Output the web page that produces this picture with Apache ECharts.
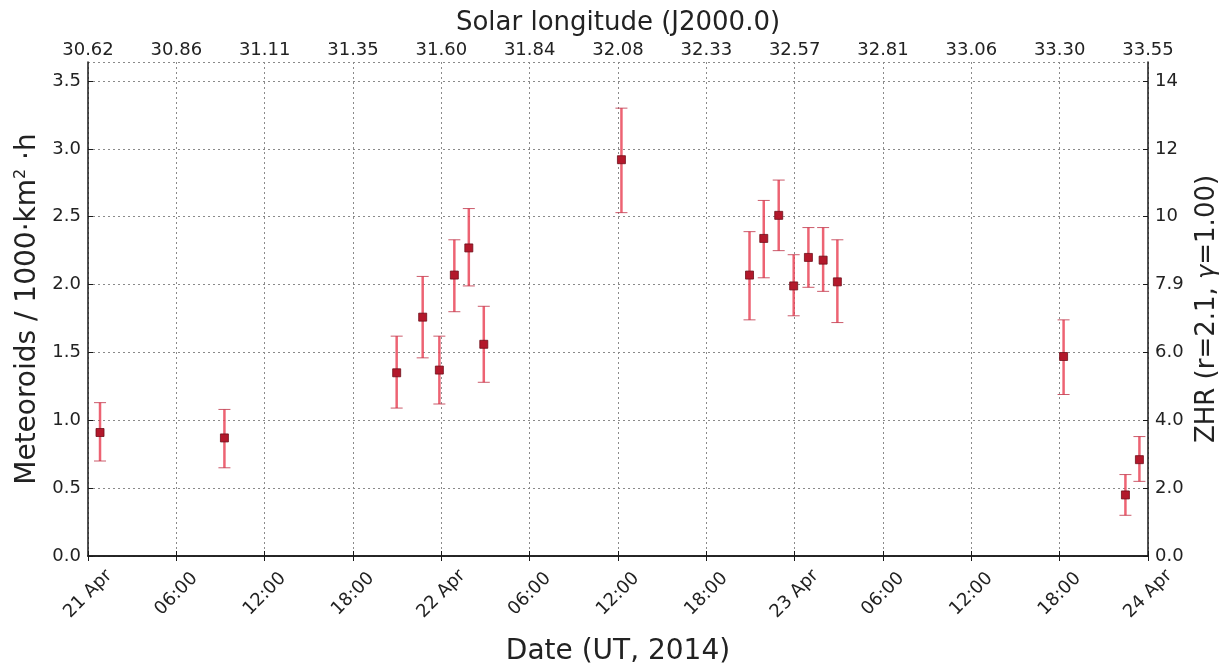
<!DOCTYPE html>
<html>
<head>
<meta charset="utf-8">
<script src="https://cdn.jsdelivr.net/npm/echarts@6/dist/echarts.min.js"></script>
<style>html,body{margin:0;padding:0;background:#fff}#c{width:1227px;height:668px}</style>
</head>
<body>
<div id="c"></div>
<script>
// Observation times (UT, 2014)
var times = ['2014-04-21T00:49Z','2014-04-21T09:16Z','2014-04-21T20:58Z','2014-04-21T22:44Z','2014-04-21T23:52Z',
  '2014-04-22T00:53Z','2014-04-22T01:52Z','2014-04-22T02:53Z','2014-04-22T12:14Z','2014-04-22T20:56Z',
  '2014-04-22T21:54Z','2014-04-22T22:55Z','2014-04-22T23:56Z','2014-04-23T00:56Z','2014-04-23T01:56Z',
  '2014-04-23T02:54Z','2014-04-23T18:16Z','2014-04-23T22:28Z','2014-04-23T23:25Z'];
// Meteoroids / 1000 km^2 h
var values = [0.91,0.87,1.35,1.76,1.37,2.07,2.27,1.56,2.92,2.07,2.34,2.51,1.99,2.20,2.18,2.02,1.47,0.45,0.71];
var lower  = [0.70,0.65,1.09,1.46,1.12,1.80,1.99,1.28,2.53,1.74,2.05,2.25,1.77,1.98,1.95,1.72,1.19,0.30,0.55];
var upper  = [1.13,1.08,1.62,2.06,1.62,2.33,2.56,1.84,3.30,2.39,2.62,2.77,2.22,2.42,2.42,2.33,1.74,0.60,0.88];
// Tick labels
var solarLongitudeLabels = ['30.62','30.86','31.11','31.35','31.60','31.84','32.08','32.33','32.57','32.81','33.06','33.30','33.55'];
var zhrLabels = ['0.0','2.0','4.0','6.0','7.9','10','12','14'];
var yTickLabels = ['0.0','0.5','1.0','1.5','2.0','2.5','3.0','3.5'];

var months = ['Jan','Feb','Mar','Apr','May','Jun','Jul','Aug','Sep','Oct','Nov','Dec'];
var H6 = 6 * 3600 * 1000;
var xMin = Date.UTC(2014, 3, 21);
var xMax = Date.UTC(2014, 3, 24);
var yMax = 3.64;

var pts = times.map(function (t, i) { return [Date.parse(t), values[i], lower[i], upper[i]]; });

function dateLabel(v) {
  var d = new Date(v);
  var h = d.getUTCHours();
  if (h === 0) return d.getUTCDate() + ' ' + months[d.getUTCMonth()];
  return (h < 10 ? '0' : '') + h + ':00';
}
function idx(v, step) { var k = Math.round(v / step); return Math.abs(k * step - v) < 1e-6 ? k : -1; }

var chart = echarts.init(document.getElementById('c'));
var FONT = 'DejaVu Sans';
var axisLine = { show: true, lineStyle: { color: '#1a1a1a', width: 1.5 } };
var grid = { show: true, lineStyle: { color: '#8a8a8a', width: 1, type: [2, 3] } };
var tick = { show: true, inside: true, length: 5, lineStyle: { color: '#1a1a1a', width: 1 } };

chart.setOption({
  backgroundColor: '#fff',
  animation: false,
  grid: { left: 88, right: 79, top: 62, bottom: 112, containLabel: false, outerBoundsMode: 'none' },
  xAxis: [{
    type: 'value', position: 'bottom', min: xMin, max: xMax, interval: H6,
    axisLine: axisLine, axisTick: tick, splitLine: grid,
    axisLabel: { rotate: 45, align: 'center', verticalAlign: 'middle', fontFamily: FONT, fontSize: 18, color: '#222', margin: 38,
      formatter: function (v) { return dateLabel(v); } },
    name: 'Date (UT, 2014)', nameLocation: 'middle', nameGap: 82,
    nameTextStyle: { fontFamily: FONT, fontSize: 28, color: '#222' }
  }, {
    type: 'value', position: 'top', min: xMin, max: xMax, interval: H6,
    axisLine: axisLine, axisTick: tick, splitLine: { show: false },
    axisLabel: { fontFamily: FONT, fontSize: 18, color: '#222', margin: 3,
      formatter: function (v) { var k = idx(v - xMin, H6); return k >= 0 ? solarLongitudeLabels[k] : ''; } },
    name: 'Solar longitude (J2000.0)', nameLocation: 'middle', nameGap: 25,
    nameTextStyle: { fontFamily: FONT, fontSize: 26, color: '#222' }
  }],
  yAxis: [{
    type: 'value', position: 'left', min: 0, max: yMax, interval: 0.5,
    axisLine: axisLine, axisTick: tick, splitLine: grid,
    axisLabel: { fontFamily: FONT, fontSize: 18, color: '#222', margin: 7, showMaxLabel: false,
      formatter: function (v) { var k = idx(v, 0.5); return k >= 0 ? yTickLabels[k] : ''; } },
    name: 'Meteoroids / 1000·km{sup|2} ·h', nameLocation: 'middle', nameGap: 40, nameRotate: 90,
    nameTextStyle: { fontFamily: FONT, fontSize: 28, color: '#222',
      rich: { sup: { fontFamily: FONT, fontSize: 16, color: '#222', verticalAlign: 'top', padding: [0, 0, 14, 0] } } }
  }, {
    type: 'value', position: 'right', min: 0, max: yMax, interval: 0.5,
    axisLine: axisLine, axisTick: tick, splitLine: { show: false },
    axisLabel: { fontFamily: FONT, fontSize: 18, color: '#222', margin: 7, showMaxLabel: false,
      formatter: function (v) { var k = idx(v, 0.5); return k >= 0 ? zhrLabels[k] : ''; } },
    name: 'ZHR (r=2.1, {g|γ}=1.00)', nameLocation: 'middle', nameGap: 44, nameRotate: 90,
    nameTextStyle: { fontFamily: FONT, fontSize: 26, color: '#222',
      rich: { g: { fontFamily: FONT, fontSize: 24, fontStyle: 'italic', color: '#222' } } }
  }],
  series: [{
    type: 'custom',
    xAxisIndex: 0, yAxisIndex: 0,
    data: pts,
    encode: { x: 0, y: [1, 2, 3] },
    renderItem: function (params, api) {
      var x = api.value(0);
      var pLo = api.coord([x, api.value(2)]);
      var pHi = api.coord([x, api.value(3)]);
      var p = api.coord([x, api.value(1)]);
      var cw = 6;
      return {
        type: 'group',
        children: [
          { type: 'line', shape: { x1: pLo[0], y1: pLo[1], x2: pHi[0], y2: pHi[1] },
            style: { stroke: 'rgba(232,60,80,0.8)', lineWidth: 2.5 } },
          { type: 'line', shape: { x1: pLo[0] - cw, y1: pLo[1], x2: pLo[0] + cw, y2: pLo[1] },
            style: { stroke: 'rgba(190,50,70,0.8)', lineWidth: 1 } },
          { type: 'line', shape: { x1: pHi[0] - cw, y1: pHi[1], x2: pHi[0] + cw, y2: pHi[1] },
            style: { stroke: 'rgba(190,50,70,0.8)', lineWidth: 1 } },
          { type: 'rect', shape: { x: p[0] - 4, y: p[1] - 4, width: 8, height: 8 },
            style: { fill: '#b3182b', stroke: '#6e0f1a', lineWidth: 0.8 } }
        ]
      };
    },
    z: 10
  }]
});
</script>
</body>
</html>
